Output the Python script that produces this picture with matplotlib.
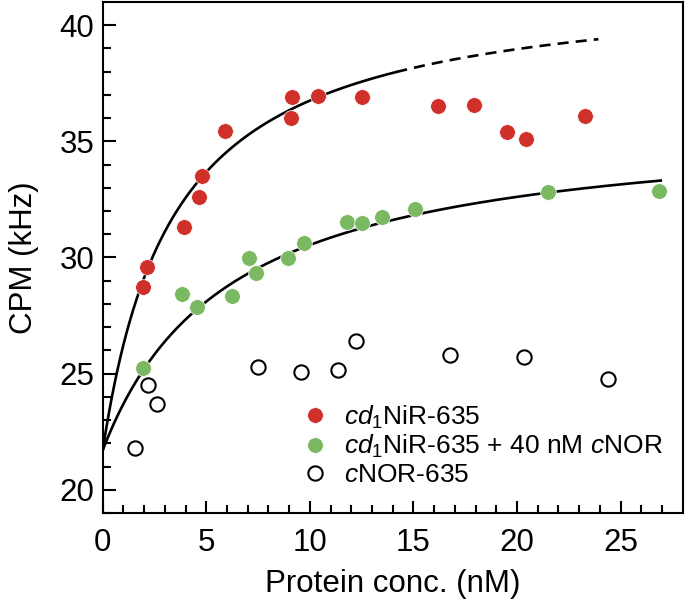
from __future__ import annotations

import matplotlib

matplotlib.use("Agg")
import matplotlib.pyplot as plt
import numpy as np

plt.rcParams["font.family"] = ["Liberation Sans", "DejaVu Sans"]
plt.rcParams["mathtext.fontset"] = "custom"
plt.rcParams["mathtext.rm"] = "Liberation Sans"
plt.rcParams["mathtext.it"] = "Liberation Sans:italic"

RED = "#d0302a"
GREEN = "#7ab862"

# cd1NiR-635
nir_x = [1.93, 2.12, 3.92, 4.64, 4.77, 5.89, 9.12, 9.11, 10.39, 12.51, 16.17, 17.94, 19.53, 20.43, 23.26]
nir_y = [28.73, 29.59, 31.32, 32.59, 33.52, 35.45, 36.91, 36.01, 36.97, 36.93, 36.53, 36.58, 35.42, 35.09, 36.11]

# cd1NiR-635 + 40 nM cNOR
mix_x = [1.96, 3.81, 4.53, 6.22, 7.07, 7.39, 8.94, 9.70, 11.78, 12.51, 13.48, 15.07, 21.50, 26.86]
mix_y = [25.25, 28.43, 27.87, 28.33, 29.97, 29.33, 29.97, 30.64, 31.52, 31.48, 31.76, 32.10, 32.83, 32.88]

# cNOR-635
nor_x = [1.56, 2.20, 2.60, 7.50, 9.56, 11.35, 12.24, 16.74, 20.32, 24.37]
nor_y = [21.78, 24.51, 23.68, 25.28, 25.07, 25.14, 26.40, 25.82, 25.71, 24.79]

# hyperbolic fits: y = y0 + a * x / (k + x)
nir_fit = dict(y0=21.7, a=20.25, k=3.45)
nir_fit_solid_end = 14.17
nir_fit_dash_end = 23.93
mix_fit = dict(y0=21.7, a=14.25, k=6.12)
mix_fit_end = 26.94


def hyperbola(x: np.ndarray, y0: float, a: float, k: float) -> np.ndarray:
    return y0 + a * x / (k + x)


def main() -> None:
    fig = plt.figure(figsize=(6.85, 6.0), dpi=100)
    ax = fig.add_axes([0.15, 0.145, 0.8467, 0.8517])

    xs = np.linspace(0, nir_fit_solid_end, 300)
    ax.plot(xs, hyperbola(xs, **nir_fit), color="black", lw=1.9, zorder=2)
    xd = np.linspace(nir_fit_solid_end, nir_fit_dash_end, 200)
    ax.plot(xd, hyperbola(xd, **nir_fit), color="black", lw=1.9,
            linestyle=(0, (4.2, 2.7)), zorder=2)
    xg = np.linspace(0, mix_fit_end, 300)
    ax.plot(xg, hyperbola(xg, **mix_fit), color="black", lw=1.9, zorder=2)

    ax.plot(nir_x, nir_y, "o", ms=11.3, color=RED, mec="white", mew=0.5,
            label=r"$cd_{\mathrm{1}}$NiR-635", zorder=3)
    ax.plot(mix_x, mix_y, "o", ms=11.3, color=GREEN, mec="white", mew=0.5,
            label=r"$cd_{\mathrm{1}}$NiR-635 + 40 nM $c$NOR", zorder=3)
    ax.plot(nor_x, nor_y, "o", ms=10.3, mfc="white", mec="black", mew=1.5,
            label=r"$c$NOR-635", zorder=3)

    ax.set_xlim(0, 28)
    ax.set_ylim(19, 41)
    ax.set_xticks([0, 5, 10, 15, 20, 25])
    ax.set_yticks([20, 25, 30, 35, 40])
    ax.set_xticks(np.arange(0, 28, 1), minor=True)
    ax.set_yticks(np.arange(19, 41, 1), minor=True)
    ax.tick_params(which="both", direction="in", top=False, right=False,
                   width=1.5, labelsize=22.5)
    ax.tick_params(axis="x", which="both", pad=11)
    ax.tick_params(axis="y", which="both", pad=6)
    ax.tick_params(which="major", length=9)
    ax.tick_params(which="minor", length=5.5)
    for spine in ax.spines.values():
        spine.set_linewidth(1.5)

    ax.set_xlabel("Protein conc. (nM)", fontsize=22.5, labelpad=8)
    ax.set_ylabel("CPM (kHz)", fontsize=22.5, labelpad=15)

    ax.legend(loc="lower left", bbox_to_anchor=(0.325, 0.03), frameon=False,
              fontsize=19, handletextpad=0.6, labelspacing=0.1,
              handlelength=1.0, borderaxespad=0)

    fig.savefig("out.png", dpi=100)
    plt.close(fig)


if __name__ == "__main__":
    main()
